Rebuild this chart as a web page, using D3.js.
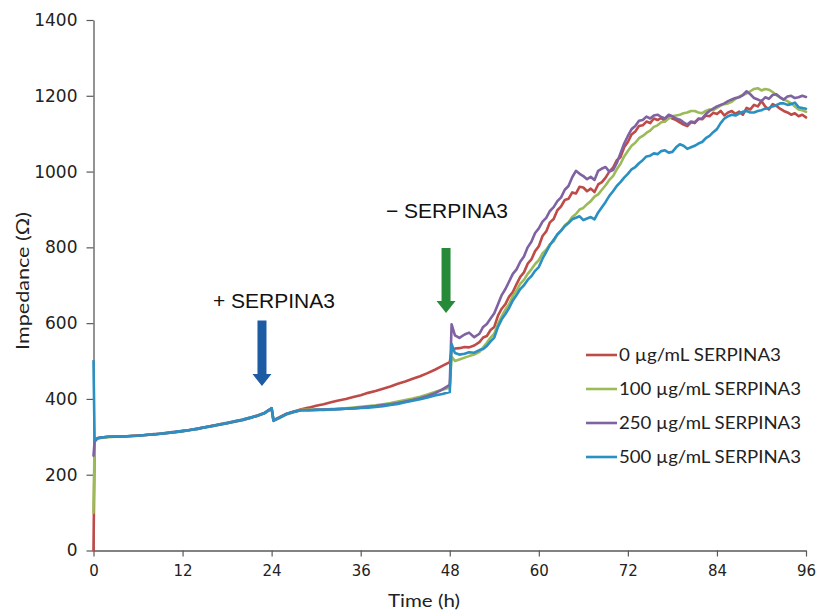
<!DOCTYPE html>
<html><head><meta charset="utf-8">
<script src="https://cdn.jsdelivr.net/npm/d3@7"></script>
<style>body{margin:0;background:#fff}svg{display:block}</style>
</head><body><svg id="c" width="820" height="613"></svg>
<script>
const hours = [0,0.15,0.5,
 1,2,3,4,5,6,7,8,9,10,11,12,13,14,15,16,17,18,19,20,21,22,23,24,
 24.25,
 25,26,27,28,29,30,31,32,33,34,35,36,37,38,39,40,41,42,43,44,45,46,47,48,
 48.25,48.7,49.3,50,50.6,51.3,
 52,52.5,53,53.5,54,54.5,55,55.5,56,56.5,
 57,57.5,58,58.5,59,59.5,60,60.5,61,61.5,
 62,62.5,63,63.5,64,64.5,65,65.5,66,66.5,
 67,67.5,68,68.5,69,69.5,70,70.5,71,71.5,
 72,72.5,73,73.5,74,74.5,75,75.5,76,76.5,
 77,77.5,78,78.5,79,79.5,80,80.5,81,81.5,
 82,82.5,83,83.5,84,84.5,85,85.5,86,86.5,
 87,87.5,88,88.5,89,89.5,90,90.5,91,91.5,
 92,92.5,93,93.5,94,94.5,95,95.5,96];

const imp0 = [0,288,296,
 298,300,301,301,302,304,305,307,308,311,313,316,318,322,325,329,333,337,341,345,350,356,363,375,
 344,
 351,361,367,373,377,382,386,391,396,400,405,410,416,421,427,433,440,446,453,460,468,477,487,497,
 528,533,534,537,536,541,
 550,562,566,582,590,620,638,650,670,682,
 703,722,734,757,768,790,803,830,842,866,
 875,898,908,925,928,945,942,960,958,948,
 955,946,966,972,984,1000,1010,1030,1038,1064,
 1078,1098,1106,1120,1122,1132,1128,1140,1136,1142,
 1133,1145,1140,1136,1130,1124,1120,1130,1128,1140,
 1138,1148,1146,1155,1152,1160,1148,1156,1160,1152,
 1158,1150,1168,1164,1176,1172,1186,1172,1164,1178,
 1174,1166,1160,1156,1150,1154,1146,1150,1143];

const imp100 = [100,287,295,
 297,299,300,301,302,303,305,306,308,310,312,315,318,321,325,328,332,336,340,344,349,355,362,374,
 343,
 349,359,365,371,371,372,372,373,374,375,377,379,381,383,386,389,393,397,401,406,412,418,424,430,
 512,500,504,509,513,517,
 524,536,548,562,572,598,618,636,650,672,
 686,704,714,730,742,756,766,784,794,808,
 816,834,844,858,866,880,888,900,904,914,
 922,934,940,952,964,978,988,1006,1020,1040,
 1054,1068,1076,1088,1094,1102,1108,1118,1122,1130,
 1132,1140,1146,1148,1150,1154,1156,1160,1160,1156,
 1154,1160,1164,1162,1168,1174,1178,1180,1184,1192,
 1198,1202,1206,1212,1218,1220,1214,1218,1216,1210,
 1202,1196,1190,1186,1180,1172,1164,1162,1158];

const imp250 = [250,288,296,
 298,300,300,301,302,303,305,306,308,310,312,315,318,321,325,329,332,336,340,344,349,355,362,375,
 343,
 350,360,366,370,370,371,372,372,373,374,375,377,379,381,384,386,389,393,397,402,408,415,425,437,
 597,568,561,570,575,563,
 572,590,598,612,626,650,674,690,710,730,
 742,762,776,800,815,838,850,868,878,896,
 906,922,932,952,962,985,1002,994,988,980,
 986,978,1002,1008,1012,1000,1004,1022,1048,1074,
 1094,1112,1120,1134,1136,1145,1140,1148,1150,1144,
 1140,1150,1146,1140,1137,1130,1124,1132,1130,1138,
 1140,1152,1160,1166,1172,1176,1180,1186,1190,1194,
 1196,1202,1212,1204,1194,1190,1186,1196,1192,1202,
 1204,1196,1190,1198,1200,1194,1196,1200,1197];

const imp500 = [500,290,296,
 298,300,301,301,302,303,305,306,308,310,313,315,318,321,325,328,333,336,341,345,350,355,362,376,
 342,
 350,360,366,370,370,371,371,372,373,374,375,376,377,379,381,384,387,391,395,399,404,409,413,418,
 545,521,517,519,523,522,
 529,532,540,552,562,590,610,624,640,660,
 674,690,700,714,724,738,748,770,788,806,
 820,834,844,856,864,874,878,882,872,876,
 880,874,892,906,920,936,948,962,972,984,
 994,1006,1012,1022,1030,1040,1042,1048,1046,1054,
 1056,1050,1052,1064,1072,1068,1060,1064,1068,1074,
 1078,1088,1094,1104,1112,1128,1140,1146,1150,1148,
 1153,1158,1160,1156,1156,1160,1162,1166,1168,1172,
 1175,1180,1180,1176,1178,1182,1170,1168,1166];

const seriesNames = ["0 \u00b5g/mL SERPINA3","100 \u00b5g/mL SERPINA3","250 \u00b5g/mL SERPINA3","500 \u00b5g/mL SERPINA3"];
const seriesColors = ["#be4b48","#9bbb59","#7f62a1","#2a8fc2"];
const xTicks = [0,12,24,36,48,60,72,84,96];
const yTicks = [0,200,400,600,800,1000,1200,1400];
const annotations = ["+ SERPINA3","\u2212 SERPINA3"];
const arrowHours = [22.7,47.5];
const arrowTop = [607,798];
const arrowTip = [434,627];
const arrowColors = ["#1d5ba3","#268a38"];

const allSeries = [imp0,imp100,imp250,imp500];
const svg = d3.select('#c');
const x = d3.scaleLinear().domain([0,96]).range([93.5,806]);
const y = d3.scaleLinear().domain([0,1400]).range([550.5,20]);

// axes
const gx = svg.append('g').attr('transform','translate(0,550.5)')
  .call(d3.axisBottom(x).tickValues(xTicks).tickFormat(d3.format('d')).tickSize(6).tickPadding(9).tickSizeOuter(0));
const gy = svg.append('g').attr('transform','translate(93.5,0)')
  .call(d3.axisLeft(y).tickValues(yTicks).tickFormat(d3.format('d')).tickSize(7).tickPadding(9).tickSizeOuter(0));
[gx,gy].forEach(g=>{
  g.select('.domain').attr('stroke','#595959').attr('stroke-width',1.3);
  g.selectAll('.tick line').attr('stroke','#595959').attr('stroke-width',1.2);
});
gx.selectAll('.tick text').attr('font-family','DejaVu Sans').attr('font-size',15).attr('fill','#222');
gy.selectAll('.tick text').attr('font-family','DejaVu Sans').attr('font-size',17).attr('fill','#222');

// axis titles
svg.append('text').attr('x',424).attr('y',607).attr('text-anchor','middle')
  .attr('font-family','Lato').attr('font-size',17).attr('fill','#222')
  .attr('textLength',72).attr('lengthAdjust','spacingAndGlyphs').text('Time (h)');
svg.append('text').attr('transform','translate(29,281) rotate(-90)').attr('text-anchor','middle')
  .attr('font-family','Lato').attr('font-size',17).attr('fill','#222')
  .attr('textLength',138).attr('lengthAdjust','spacingAndGlyphs').text('Impedance (\u03a9)');

// lines
const line = d3.line().x((d,i)=>x(hours[i])).y(d=>y(d));
svg.append('g').selectAll('path').data(allSeries).join('path')
  .attr('d',line).attr('fill','none')
  .attr('stroke',(d,i)=>seriesColors[i]).attr('stroke-width',2.6)
  .attr('stroke-linejoin','round').attr('stroke-linecap','round');

// arrows
arrowHours.forEach((h,i)=>{
  const cx = x(h), top = y(arrowTop[i]), tip = y(arrowTip[i]);
  const hl = 12, sw = 4.5, hw = 9.5;
  const pts = [[cx-sw,top],[cx+sw,top],[cx+sw,tip-hl],[cx+hw,tip-hl],[cx,tip],[cx-hw,tip-hl],[cx-sw,tip-hl]];
  svg.append('polygon').attr('points',pts.map(p=>p.join(',')).join(' ')).attr('fill',arrowColors[i]);
});
svg.append('text').attr('x',213).attr('y',308).attr('font-family','Liberation Sans, Arial').attr('font-size',21).attr('fill','#111').text(annotations[0]);
svg.append('text').attr('x',386).attr('y',218).attr('font-family','Liberation Sans, Arial').attr('font-size',21).attr('fill','#111').text(annotations[1]);

// legend
const lg = svg.append('g');
seriesNames.forEach((n,i)=>{
  const yy = 355 + i*34;
  lg.append('line').attr('x1',586).attr('x2',617).attr('y1',yy).attr('y2',yy)
    .attr('stroke',seriesColors[i]).attr('stroke-width',2.6);
  lg.append('text').attr('x',619).attr('y',yy+6).attr('font-family','Lato').attr('font-size',18)
    .attr('fill','#222').attr('textLength', i===0?162:182).attr('lengthAdjust','spacingAndGlyphs').text(n);
});
</script></body></html>
